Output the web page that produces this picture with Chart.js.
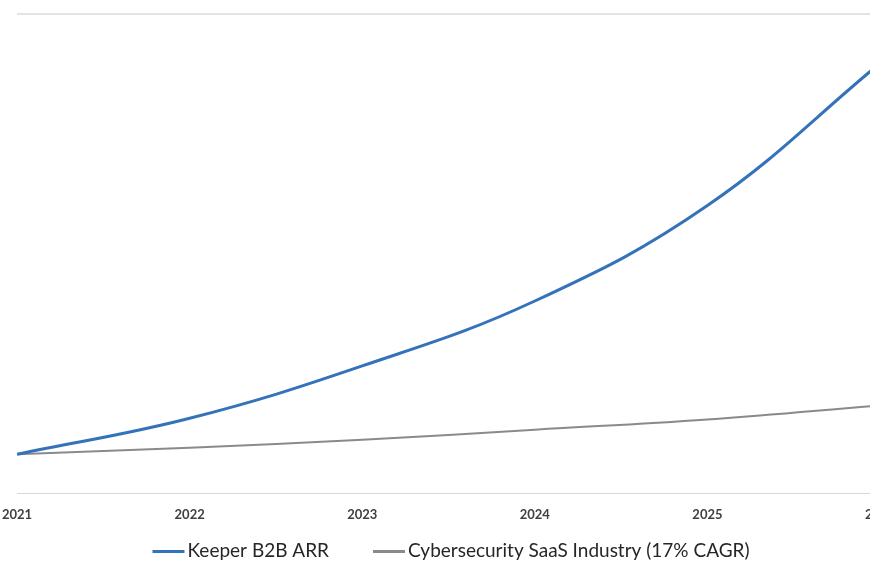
<!DOCTYPE html>
<html>
<head>
<meta charset="utf-8">
<script src="https://cdn.jsdelivr.net/npm/chart.js@4.4.0/dist/chart.umd.min.js"></script>
<style>
  html, body { margin: 0; padding: 0; background: #fff; overflow: hidden; width: 870px; height: 570px; }
  #wrap { position: absolute; left: 0; top: 0; width: 900px; height: 570px; }
</style>
</head>
<body>
<div id="wrap"><canvas id="c"></canvas></div>
<script>
const years = ['2021', '2022', '2023', '2024', '2025', '2026'];
const keeperARR = [1.0, 1.92, 3.26, 4.92, 7.36, 11.0];
const industry = [1.0, 1.17, 1.37, 1.63, 1.89, 2.25];
const yMin = 0;
const yMax = 12.26;

const FONT = 'Lato, "Open Sans", sans-serif';

// Legend drawn on the canvas with Excel-like spacing (short gap swatch->text, wide gap between items)
const bottomLegend = {
  id: 'bottomLegend',
  afterDraw(chart) {
    const ctx = chart.ctx;
    const sets = chart.data.datasets;
    const swatch = 32, gapText = 3, gapItem = 44, fontSize = 19;
    const centerX = 451, centerY = 551;
    ctx.save();
    ctx.font = fontSize + 'px ' + FONT;
    ctx.textBaseline = 'middle';
    ctx.textAlign = 'left';
    const widths = sets.map(d => ctx.measureText(d.label).width);
    let total = 0;
    widths.forEach((w, i) => { total += swatch + gapText + w + (i < widths.length - 1 ? gapItem : 0); });
    let x = centerX - total / 2;
    sets.forEach((d, i) => {
      ctx.strokeStyle = d.borderColor;
      ctx.lineWidth = 3;
      ctx.beginPath();
      ctx.moveTo(x, centerY + 0.5);
      ctx.lineTo(x + swatch, centerY + 0.5);
      ctx.stroke();
      x += swatch + gapText;
      ctx.fillStyle = '#262626';
      ctx.fillText(d.label, x, centerY);
      x += widths[i] + gapItem;
    });
    ctx.restore();
  }
};

new Chart(document.getElementById('c'), {
  type: 'line',
  data: {
    labels: years,
    datasets: [
      {
        label: 'Keeper B2B ARR',
        data: keeperARR,
        borderColor: '#3473BA',
        backgroundColor: '#3473BA',
        borderWidth: 3,
        pointRadius: 0,
        tension: 0.4,
        fill: false
      },
      {
        label: 'Cybersecurity SaaS Industry (17% CAGR)',
        data: industry,
        borderColor: '#8a8a8a',
        backgroundColor: '#8a8a8a',
        borderWidth: 2,
        pointRadius: 0,
        tension: 0.4,
        fill: false
      }
    ]
  },
  plugins: [bottomLegend],
  options: {
    responsive: true,
    maintainAspectRatio: false,
    animation: false,
    layout: { padding: { left: 17, right: 20, top: 14, bottom: 45 } },
    plugins: {
      tooltip: { enabled: false },
      legend: { display: false }
    },
    scales: {
      x: {
        offset: false,
        grid: { display: false, drawTicks: true, tickLength: 12 },
        border: { display: true, color: '#d9d9d9', width: 1 },
        ticks: { color: '#404040', padding: 2, font: { family: FONT, size: 13, weight: 'bold' }, maxRotation: 0, autoSkip: false }
      },
      y: {
        display: true,
        min: yMin,
        max: yMax,
        border: { display: false },
        grid: {
          drawTicks: false,
          lineWidth: 2,
          color: (ctx) => (ctx.tick && ctx.tick.value === yMax) ? '#e4e4e4' : 'rgba(0,0,0,0)'
        },
        afterBuildTicks: (axis) => { axis.ticks = [{ value: yMin }, { value: yMax }]; },
        ticks: { display: false },
        afterFit: (axis) => { axis.width = 0; }
      }
    }
  }
});
</script>
</body>
</html>
